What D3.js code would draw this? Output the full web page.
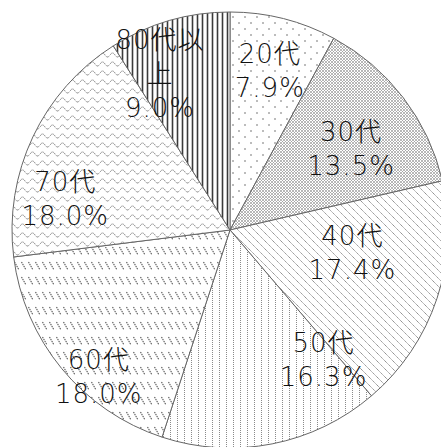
<!DOCTYPE html>
<html><head><meta charset="utf-8">
<script src="https://cdn.jsdelivr.net/npm/d3@7"></script>
<style>html,body{margin:0;padding:0;background:#fff;overflow:hidden}</style>
</head><body>
<svg id="c" width="441" height="447"></svg>
<script>
const categories = ["20代","30代","40代","50代","60代","70代","80代以上"];
const values = [7.9, 13.5, 17.4, 16.3, 18.0, 18.0, 9.0];
const labelLines = [["20代","7.9%"],["30代","13.5%"],["40代","17.4%"],["50代","16.3%"],["60代","18.0%"],["70代","18.0%"],["80代以","上","9.0%"]];
// label anchor: [angle in degrees clockwise from 12 o'clock, fraction of radius]
const labelPolar = [[14,0.755],[56,0.67],[100,0.57],[144,0.73],[222,0.90],[281,0.77],[336,0.79]];

const svg = d3.select("#c");
const cx = 230, cy = 230, R = 218;
const defs = svg.append("defs");

function pat(id, w, h, draw){
  const p = defs.append("pattern").attr("id", id).attr("patternUnits","userSpaceOnUse")
    .attr("width", w).attr("height", h);
  p.append("rect").attr("width", w).attr("height", h).attr("fill", "#fff");
  draw(p);
}
// 20: sparse dots
pat("p0", 12, 12, p => {
  p.append("circle").attr("cx",3).attr("cy",3).attr("r",0.8).attr("fill","#666");
  p.append("circle").attr("cx",9).attr("cy",9).attr("r",0.8).attr("fill","#666");
});
// 30: fine crosshatch
pat("p1", 3, 3, p => {
  p.append("path").attr("d","M0,0L3,3M3,0L0,3").attr("stroke","#9a9a9a").attr("stroke-width",0.7);
});
// 40: diagonal "\" lines
pat("p2", 8, 8, p => {
  p.append("path").attr("d","M-2,-2L10,10M-2,6L2,10M6,-2L10,2").attr("stroke","#808080").attr("stroke-width",1)
    .attr("stroke-dasharray","1.2,0.6");
});
// 50: vertical thin lines
pat("p3", 7, 4, p => {
  p.append("path").attr("d","M3.5,0L3.5,4").attr("stroke","#8a8a8a").attr("stroke-width",1)
    .attr("stroke-dasharray","1,1");
});
// 60: rows of backslash dashes
pat("p4", 7, 15, p => {
  p.append("path").attr("d","M1.5,2L6,10").attr("stroke","#555").attr("stroke-width",1.1)
    .attr("stroke-dasharray","1.5,0.8");
});
// 70: zigzag waves
pat("p5", 10, 9, p => {
  p.append("path").attr("d","M0,5Q2.5,1 5,5T10,5").attr("fill","none").attr("stroke","#777").attr("stroke-width",1)
    .attr("stroke-dasharray","1.2,0.6");
});
// 80+: dark vertical lines
pat("p6", 5, 4, p => {
  p.append("path").attr("d","M2.5,0L2.5,4").attr("stroke","#3a3a3a").attr("stroke-width",1.6);
});

const pie = d3.pie().sort(null).value(d => d)(values);
const arc = d3.arc().innerRadius(0).outerRadius(R);
const g = svg.append("g").attr("transform", `translate(${cx},${cy})`);

g.selectAll("path.slice").data(pie).join("path")
  .attr("class","slice")
  .attr("d", arc)
  .attr("fill", (d,i) => `url(#p${i})`)
  .attr("stroke", "#666").attr("stroke-width", 1);

const ang = d3.scaleLinear().domain([0,360]).range([0, 2*Math.PI]);
const rad = d3.scaleLinear().domain([0,1]).range([0, R]);
const lineH = 34;

labelLines.forEach((lines, i) => {
  const a = ang(labelPolar[i][0]), r = rad(labelPolar[i][1]);
  const x = r * Math.sin(a), y = -r * Math.cos(a);
  const n = lines.length;
  lines.forEach((s, k) => {
    g.append("text")
      .attr("x", x).attr("text-anchor","middle")
      .attr("y", y + (k - (n-1)/2) * lineH + 10)
      .attr("font-family", "'DejaVu Sans', 'Noto Sans CJK JP', sans-serif")
      .attr("font-size", 26).attr("font-weight", 200)
      .attr("fill", "#111").attr("letter-spacing", 1)
      .text(s);
  });
});
</script>
</body></html>
